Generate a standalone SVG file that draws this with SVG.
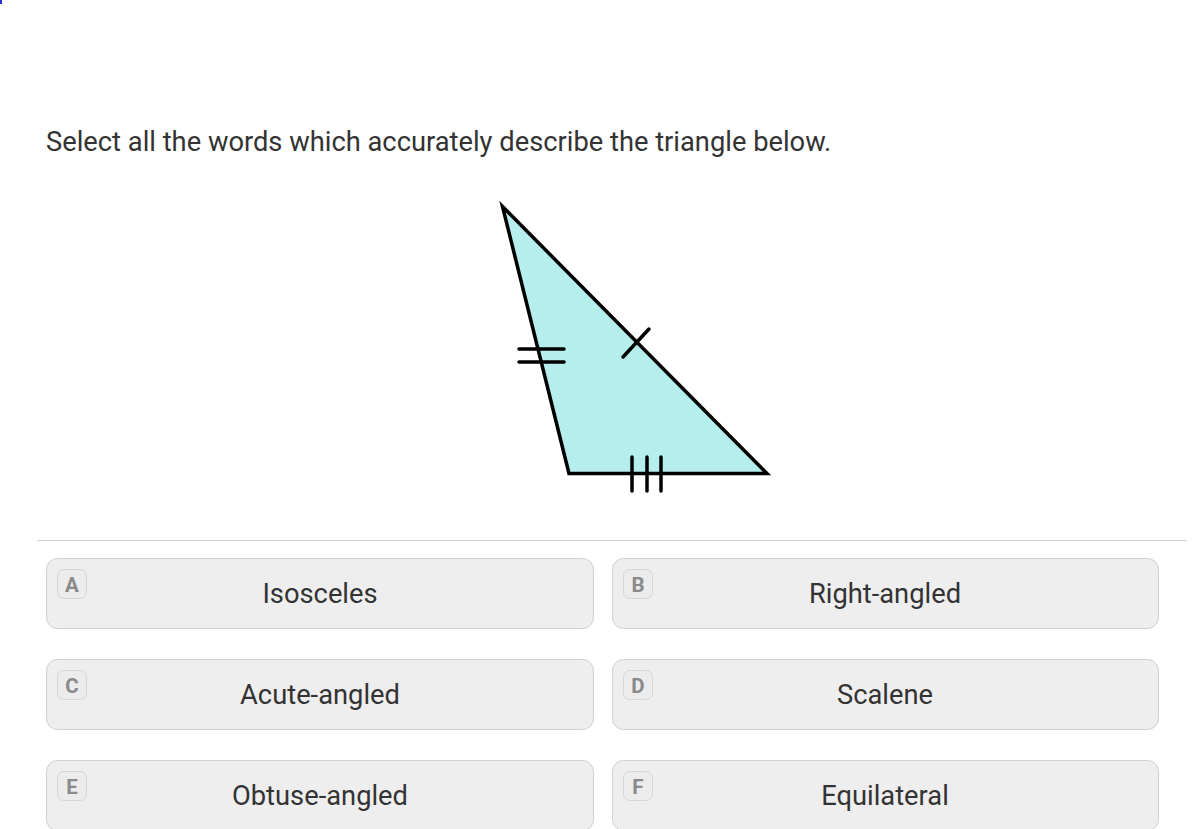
<svg xmlns="http://www.w3.org/2000/svg" width="1198" height="829" viewBox="0 0 1198 829">
<style>
.q{font-family:Roboto,"Liberation Sans",sans-serif;font-size:27.3px;fill:#333}
.opt{fill:#eeeeee;stroke:#d0d0d0;stroke-width:1}
.badge{fill:#ececec;stroke:#d6d6d6;stroke-width:1}
.bl{font-family:Roboto,"Liberation Sans",sans-serif;font-size:20.5px;font-weight:bold;fill:#8a8a8a;text-anchor:middle}
.lbl{font-family:Roboto,"Liberation Sans",sans-serif;font-size:27.3px;fill:#333;text-anchor:middle}
.mk{stroke:#000;stroke-width:3.5;fill:none;stroke-linecap:round}
</style>
<rect width="1198" height="829" fill="#fff"/>
<rect x="0" y="0" width="2" height="4" fill="#2233cc"/>
<text class="q" x="46" y="151">Select all the words which accurately describe the triangle below.</text>
<g id="triangle">
<polygon points="502.5,206.5 569,473.5 767,473.5" fill="#b6eeee" stroke="#000" stroke-width="3.5" stroke-linejoin="miter"/>
<line class="mk" x1="519" y1="349" x2="564" y2="349"/>
<line class="mk" x1="519" y1="362" x2="564" y2="362"/>
<line class="mk" x1="623" y1="357" x2="649" y2="329"/>
<line class="mk" x1="632" y1="457" x2="632" y2="491" stroke-linecap="butt"/>
<line class="mk" x1="647" y1="457" x2="647" y2="491" stroke-linecap="butt"/>
<line class="mk" x1="661" y1="457" x2="661" y2="491" stroke-linecap="butt"/>
</g>
<line x1="37" y1="540.5" x2="1187" y2="540.5" stroke="#d0d0d0" stroke-width="1"/>
<g id="optA"><rect class="opt" x="46.5" y="558.5" width="547" height="70" rx="11"/><rect class="badge" x="57.5" y="569.5" width="29" height="29" rx="6"/><text class="bl" x="72" y="592">A</text><text class="lbl" x="320" y="603">Isosceles</text></g>
<g id="optB"><rect class="opt" x="612.5" y="558.5" width="546" height="70" rx="11"/><rect class="badge" x="623.5" y="569.5" width="29" height="29" rx="6"/><text class="bl" x="638" y="592">B</text><text class="lbl" x="885" y="603">Right-angled</text></g>
<g id="optC"><rect class="opt" x="46.5" y="659.5" width="547" height="70" rx="11"/><rect class="badge" x="57.5" y="670.5" width="29" height="29" rx="6"/><text class="bl" x="72" y="693">C</text><text class="lbl" x="320" y="704">Acute-angled</text></g>
<g id="optD"><rect class="opt" x="612.5" y="659.5" width="546" height="70" rx="11"/><rect class="badge" x="623.5" y="670.5" width="29" height="29" rx="6"/><text class="bl" x="638" y="693">D</text><text class="lbl" x="885" y="704">Scalene</text></g>
<g id="optE"><rect class="opt" x="46.5" y="760.5" width="547" height="70" rx="11"/><rect class="badge" x="57.5" y="771.5" width="29" height="29" rx="6"/><text class="bl" x="72" y="794">E</text><text class="lbl" x="320" y="805">Obtuse-angled</text></g>
<g id="optF"><rect class="opt" x="612.5" y="760.5" width="546" height="70" rx="11"/><rect class="badge" x="623.5" y="771.5" width="29" height="29" rx="6"/><text class="bl" x="638" y="794">F</text><text class="lbl" x="885" y="805">Equilateral</text></g>
<g id="connectors"/>
</svg>
